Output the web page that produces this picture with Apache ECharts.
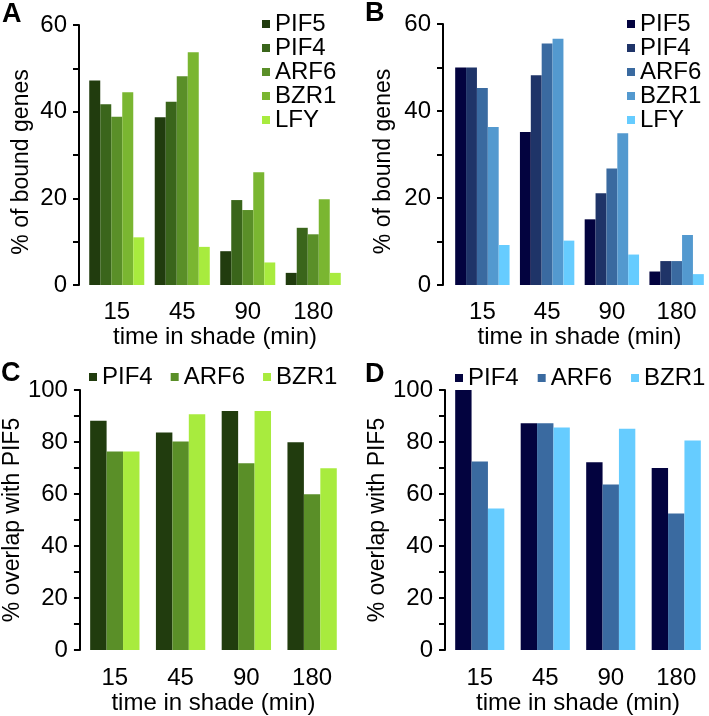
<!DOCTYPE html>
<html>
<head>
<meta charset="utf-8">
<script src="https://cdn.jsdelivr.net/npm/echarts@6/dist/echarts.min.js"></script>
<style>
  html, body { margin: 0; padding: 0; background: #fff; }
  #chart { width: 709px; height: 716px; }
</style>
</head>
<body>
<div id="chart"></div>
<script>
const times = ['15', '45', '90', '180']

// panel A / B: % of bound genes
const boundNames = ['PIF5', 'PIF4', 'ARF6', 'BZR1', 'LFY']
const boundA = [
  [47.2, 38.7, 7.8, 2.8],
  [41.7, 42.3, 19.6, 13.2],
  [38.8, 48.2, 17.3, 11.7],
  [44.5, 53.7, 26.0, 19.8],
  [11.0, 8.8, 5.2, 2.8]
]
const boundB = [
  [50.0, 35.2, 15.1, 3.1],
  [50.0, 48.2, 21.1, 5.5],
  [45.3, 55.5, 26.8, 5.5],
  [36.3, 56.6, 34.9, 11.5],
  [9.2, 10.2, 7.0, 2.5]
]

// panel C / D: % overlap with PIF5
const overlapNames = ['PIF4', 'ARF6', 'BZR1']
const overlapC = [
  [88.2, 83.7, 91.9, 79.9],
  [76.4, 80.2, 71.8, 59.9],
  [76.4, 90.7, 91.9, 69.9]
]
const overlapD = [
  [100, 87.2, 72.2, 70.0],
  [72.5, 87.2, 63.7, 52.5],
  [54.4, 85.6, 85.1, 80.6]
]

const greens = ['#213c0e', '#3a651b', '#5a8f28', '#7ab631', '#a8eb3e']
const blues = ['#03033f', '#1f3468', '#3a6aa0', '#5399cf', '#66ccff']
const greensC = [greens[0], greens[2], greens[4]]
const bluesD = [blues[0], blues[2], blues[4]]

const font = 'Liberation Sans, Arial, Helvetica, sans-serif'
const fs = 24

// shiftDown: moves the rotated y title towards the bottom
const panels = [
  { grid: { left: 84, width: 262, top: 25, height: 260 }, offset: 5, max: 60, name: '% of bound genes', nameGap: 46, shiftDown: 14, names: boundNames, data: boundA, colors: greens, gap: '16%', labelMargin: 15, xNameGap: 33 },
  { grid: { left: 450, width: 262, top: 24, height: 261 }, offset: 7, max: 60, name: '% of bound genes', nameGap: 48, shiftDown: 14, names: boundNames, data: boundB, colors: blues, gap: '16%', labelMargin: 15, xNameGap: 33 },
  { grid: { left: 80, width: 265, top: 390, height: 262 }, offset: 2, max: 100, name: '% overlap with PIF5', nameGap: 51, shiftDown: 0, names: overlapNames, data: overlapC, colors: greensC, gap: '25%', labelMargin: 16, xNameGap: 32 },
  { grid: { left: 447, width: 264, top: 390, height: 261 }, offset: 2, max: 100, name: '% overlap with PIF5', nameGap: 53, shiftDown: 0, names: overlapNames, data: overlapD, colors: bluesD, gap: '25%', labelMargin: 16, xNameGap: 32 }
]

const legendPos = [
  { orient: 'vertical', left: 262, top: 12, itemGap: 0 },
  { orient: 'vertical', left: 627, top: 12, itemGap: 0 },
  { orient: 'horizontal', left: 89, top: 365, itemGap: 18 },
  { orient: 'horizontal', left: 455, top: 366, itemGap: 19 }
]

const letters = [
  { text: 'A', left: 2, top: 1 },
  { text: 'B', left: 365, top: 0 },
  { text: 'C', left: 1, top: 360 },
  { text: 'D', left: 365, top: 361 }
]

const chart = echarts.init(document.getElementById('chart'))

const option = {
  backgroundColor: '#fff',
  animation: false,
  textStyle: { fontFamily: font, color: '#000' },
  title: letters.map(l => ({
    text: l.text, left: l.left, top: l.top, padding: 0,
    textStyle: { fontFamily: font, fontSize: 27, fontWeight: 'bold', color: '#000' }
  })),
  grid: panels.map(p => p.grid),
  legend: panels.map((p, i) => ({
    ...legendPos[i],
    icon: 'rect',
    itemWidth: 8,
    itemHeight: 8,
    padding: 0,
    selectedMode: false,
    textStyle: { fontFamily: font, fontSize: fs, color: '#000', lineHeight: 23 },
    data: p.names.map((n, k) => ({ name: n, itemStyle: { color: p.colors[k] } }))
  })),
  xAxis: panels.map((p, i) => ({
    type: 'category',
    gridIndex: i,
    data: times,
    name: 'time in shade (min)',
    nameLocation: 'middle',
    nameGap: p.xNameGap,
    nameTextStyle: { fontFamily: font, fontSize: fs, color: '#000' },
    axisLine: { show: false },
    axisTick: { show: false },
    axisLabel: { fontFamily: font, fontSize: fs, color: '#000', margin: p.labelMargin }
  })),
  yAxis: panels.map((p, i) => ({
    type: 'value',
    gridIndex: i,
    min: 0,
    max: p.max,
    interval: 10,
    offset: p.offset,
    name: p.name,
    nameLocation: 'middle',
    nameGap: p.nameGap,
    nameTextStyle: { fontFamily: font, fontSize: 23, color: '#000', padding: [0, p.shiftDown, 0, 0] },
    splitLine: { show: false },
    axisLine: { show: true, lineStyle: { color: '#000', width: 2 } },
    axisTick: { show: true, length: 6, lineStyle: { color: '#000', width: 2 } },
    axisLabel: {
      fontFamily: font, fontSize: fs, color: '#000', margin: 12,
      formatter: v => (v % 20 === 0 ? String(v) : '')
    }
  })),
  series: []
}

panels.forEach((p, i) => {
  p.names.forEach((n, k) => {
    option.series.push({
      name: n,
      type: 'bar',
      xAxisIndex: i,
      yAxisIndex: i,
      data: p.data[k],
      barGap: '0%',
      barCategoryGap: p.gap,
      itemStyle: { color: p.colors[k] }
    })
  })
})

chart.setOption(option)
</script>
</body>
</html>
